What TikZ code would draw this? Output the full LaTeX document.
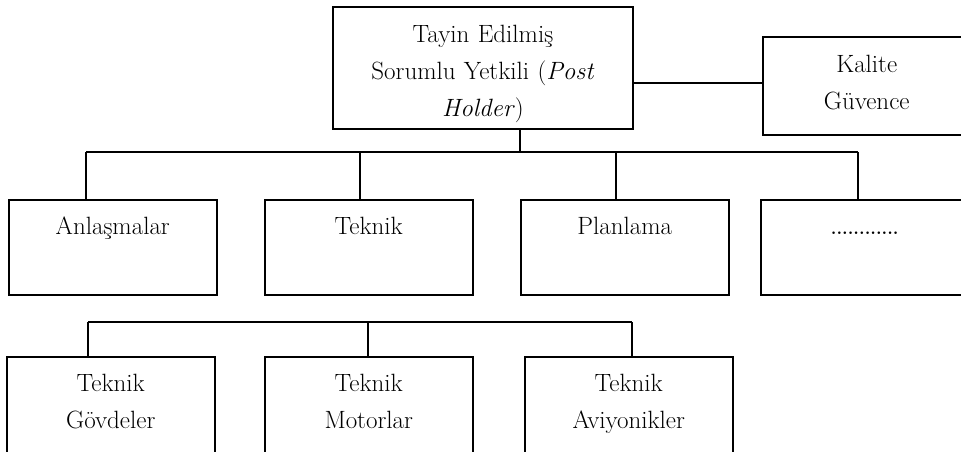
\documentclass[tikz,border=0pt]{standalone}
\usepackage{fontspec}
\begin{document}
\begin{tikzpicture}[x=1pt,y=-1pt,
  every node/.style={font=\fontsize{25}{37}\selectfont},
  box/.style={draw=black,line width=1.5pt,rectangle,inner sep=0pt,align=center,minimum width=208pt},
  conn/.style={draw=black,line width=1.5pt}]
\useasboundingbox (0,0) rectangle (961,451);
\clip (0,0) rectangle (961,451);
% top box
\node[box,minimum width=300pt,text width=300pt,text height=36pt,text depth=86pt,anchor=north] (top) at (483,6) {Tayin Edilmiş\\Sorumlu Yetkili (\textit{Post}\\\textit{Holder})};
\node[box,text width=208pt,text height=36pt,text depth=62pt,anchor=north west] (kal) at (762,36) {Kalite\\Güvence};
% row 2
\node[box,text height=35pt,text depth=60pt,anchor=north west] (anl) at (8,199) {Anlaşmalar};
\node[box,text height=35pt,text depth=60pt,anchor=north west] (tek) at (264,199) {Teknik};
\node[box,text height=35pt,text depth=60pt,anchor=north west] (pla) at (520,199) {Planlama};
\node[box,text height=35pt,text depth=60pt,anchor=north west] (dot) at (760,199) {{\fontsize{18}{20}\selectfont\textbf{............}}};
% row 3
\node[box,text width=208pt,text height=35pt,text depth=100pt,anchor=north west] (gov) at (6,356) {Teknik\\Gövdeler};
\node[box,text width=207pt,text height=35pt,text depth=100pt,anchor=north west] (mot) at (264,356) {Teknik\\Motorlar};
\node[box,text width=208pt,text height=35pt,text depth=100pt,anchor=north west] (avi) at (524,356) {Teknik\\Aviyonikler};
% connectors
\coordinate (tb) at (520,152);
\coordinate (b1) at (86,152);
\coordinate (b2) at (360,152);
\coordinate (b3) at (616,152);
\coordinate (b4) at (858,152);
\draw[conn] (top.east |- 0,83) -- (kal.west |- 0,83);
\draw[conn] (tb |- top.south) -- (tb);
\draw[conn] (b1) -- (b4);
\draw[conn] (b1) -- (b1 |- anl.north);
\draw[conn] (b2) -- (b2 |- tek.north);
\draw[conn] (b3) -- (b3 |- pla.north);
\draw[conn] (b4) -- (b4 |- dot.north);
\coordinate (c1) at (88,322);
\coordinate (c2) at (368,322);
\coordinate (c3) at (632,322);
\draw[conn] (c1) -- (c3);
\draw[conn] (c1) -- (c1 |- gov.north);
\draw[conn] (c2) -- (c2 |- mot.north);
\draw[conn] (c3) -- (c3 |- avi.north);
\end{tikzpicture}
\end{document}
